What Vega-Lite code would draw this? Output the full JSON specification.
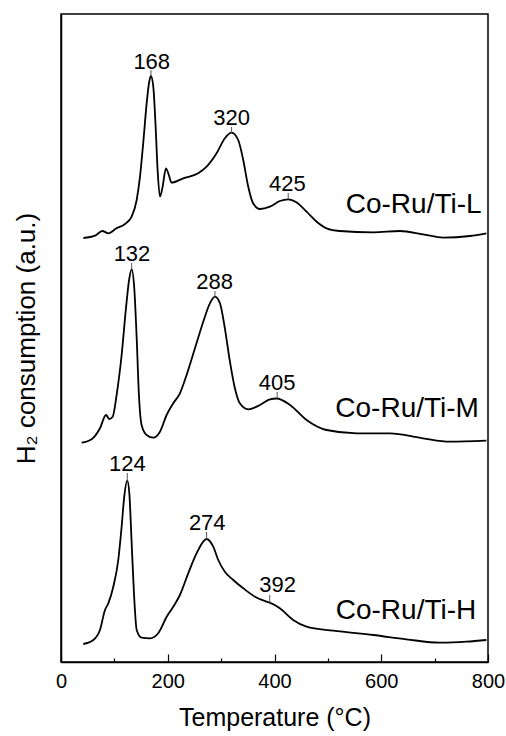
{
  "$schema": "https://vega.github.io/schema/vega-lite/v6.json",
  "width": 427,
  "height": 648,
  "autosize": {"type": "none"},
  "padding": {"left": 61, "top": 14, "right": 18, "bottom": 74},
  "background": "white",
  "config": {
    "view": {"stroke": "black", "strokeWidth": 1.5},
    "font": "Liberation Sans",
    "axis": {"grid": false, "domainColor": "black", "domainWidth": 1.5, "tickColor": "black", "labelColor": "black", "titleColor": "black", "labelFont": "Liberation Sans", "titleFont": "Liberation Sans", "titleFontWeight": "normal"}
  },
  "datasets": {
    "curves": [
      {"s":"L","T":42,"v":424},{"s":"L","T":63.7,"v":426.3},{"s":"L","T":77.4,"v":431},{"s":"L","T":88.6,"v":428.7},{"s":"L","T":104,"v":433.7},{"s":"L","T":120,"v":438},{"s":"L","T":132.4,"v":445.3},{"s":"L","T":141.8,"v":462},{"s":"L","T":148,"v":485.3},{"s":"L","T":154,"v":518.7},{"s":"L","T":160.5,"v":558.7},{"s":"L","T":164.8,"v":578.7},{"s":"L","T":168.5,"v":586},{"s":"L","T":172.9,"v":575.3},{"s":"L","T":177.3,"v":535.3},{"s":"L","T":181,"v":492},{"s":"L","T":185.4,"v":465.3},{"s":"L","T":190.4,"v":475.3},{"s":"L","T":196.6,"v":493.7},{"s":"L","T":202,"v":487},{"s":"L","T":207,"v":479.3},{"s":"L","T":229,"v":483.7},{"s":"L","T":257,"v":488.7},{"s":"L","T":272.8,"v":495.3},{"s":"L","T":291.5,"v":508.7},{"s":"L","T":307,"v":523.7},{"s":"L","T":319.6,"v":529.3},{"s":"L","T":332,"v":522},{"s":"L","T":341.4,"v":502},{"s":"L","T":350.8,"v":475.3},{"s":"L","T":360,"v":458.7},{"s":"L","T":372.7,"v":453},{"s":"L","T":391.4,"v":455.3},{"s":"L","T":410,"v":461},{"s":"L","T":425.7,"v":462.7},{"s":"L","T":441,"v":459.7},{"s":"L","T":460,"v":450.3},{"s":"L","T":479,"v":440.3},{"s":"L","T":497.5,"v":433.7},{"s":"L","T":522,"v":431},{"s":"L","T":585,"v":429.7},{"s":"L","T":635,"v":431},{"s":"L","T":678,"v":427.7},{"s":"L","T":716,"v":424.3},{"s":"L","T":766,"v":426},{"s":"L","T":797,"v":428.7},
      {"s":"M","T":38.7,"v":219.3},{"s":"M","T":57.4,"v":222.7},{"s":"M","T":73,"v":233.7},{"s":"M","T":84.3,"v":247},{"s":"M","T":90.5,"v":243},{"s":"M","T":96.8,"v":245.3},{"s":"M","T":104.2,"v":267},{"s":"M","T":113.6,"v":307},{"s":"M","T":121.7,"v":353.7},{"s":"M","T":128,"v":383.7},{"s":"M","T":132.4,"v":392.7},{"s":"M","T":137.3,"v":373.7},{"s":"M","T":141.8,"v":323.7},{"s":"M","T":146,"v":267},{"s":"M","T":151,"v":237},{"s":"M","T":160.4,"v":227},{"s":"M","T":172.9,"v":224.3},{"s":"M","T":185.4,"v":230.3},{"s":"M","T":197.9,"v":247},{"s":"M","T":210.3,"v":258.7},{"s":"M","T":222.8,"v":268.7},{"s":"M","T":235.3,"v":287},{"s":"M","T":251,"v":313.7},{"s":"M","T":266.5,"v":340.3},{"s":"M","T":279,"v":358.7},{"s":"M","T":288.4,"v":365.3},{"s":"M","T":297.8,"v":358.7},{"s":"M","T":307,"v":333.7},{"s":"M","T":316.5,"v":300.3},{"s":"M","T":325.8,"v":273.7},{"s":"M","T":335,"v":258.7},{"s":"M","T":350.8,"v":252.7},{"s":"M","T":372.7,"v":257},{"s":"M","T":391.4,"v":262.7},{"s":"M","T":404,"v":263.5},{"s":"M","T":429,"v":257},{"s":"M","T":460,"v":242},{"s":"M","T":497.5,"v":232},{"s":"M","T":554,"v":228.7},{"s":"M","T":616,"v":228.7},{"s":"M","T":678,"v":223.7},{"s":"M","T":728,"v":220.3},{"s":"M","T":797,"v":221.3},
      {"s":"H","T":41.8,"v":18},{"s":"H","T":60.5,"v":22},{"s":"H","T":73,"v":32},{"s":"H","T":82.4,"v":52},{"s":"H","T":88.6,"v":58.7},{"s":"H","T":98,"v":75.3},{"s":"H","T":107.3,"v":102},{"s":"H","T":113.6,"v":135.3},{"s":"H","T":118.5,"v":165.3},{"s":"H","T":124.2,"v":181.3},{"s":"H","T":128,"v":168.7},{"s":"H","T":132.4,"v":118.7},{"s":"H","T":136.7,"v":68.7},{"s":"H","T":141.8,"v":32},{"s":"H","T":151,"v":24.3},{"s":"H","T":166.7,"v":23.7},{"s":"H","T":182.2,"v":28.7},{"s":"H","T":198,"v":45.3},{"s":"H","T":210.3,"v":55.3},{"s":"H","T":222.8,"v":67},{"s":"H","T":238.4,"v":88.7},{"s":"H","T":254,"v":108.7},{"s":"H","T":272.8,"v":123},{"s":"H","T":285.2,"v":115.3},{"s":"H","T":294.6,"v":102},{"s":"H","T":307,"v":90.3},{"s":"H","T":322.7,"v":82},{"s":"H","T":341.4,"v":73.7},{"s":"H","T":363.3,"v":65.3},{"s":"H","T":385.2,"v":60.3},{"s":"H","T":391,"v":59.3},{"s":"H","T":410,"v":53.7},{"s":"H","T":435,"v":42},{"s":"H","T":460,"v":35.3},{"s":"H","T":510,"v":31.3},{"s":"H","T":585,"v":27},{"s":"H","T":647,"v":22.7},{"s":"H","T":710,"v":19.3},{"s":"H","T":760,"v":20.3},{"s":"H","T":797,"v":22}
    ],
    "peaks": [
      {"label":"168","T":168.5,"tx":170,"ty":593.5,"v1":586,"v2":592},
      {"label":"320","T":319.6,"tx":319.6,"ty":537,"v1":529.3,"v2":535},
      {"label":"425","T":425.7,"tx":424,"ty":471,"v1":462.7,"v2":469},
      {"label":"132","T":132.4,"tx":133,"ty":401,"v1":392.7,"v2":399},
      {"label":"288","T":288.4,"tx":288,"ty":373,"v1":365.3,"v2":371},
      {"label":"405","T":405,"tx":405,"ty":272,"v1":263.5,"v2":270},
      {"label":"124","T":124.2,"tx":124.5,"ty":191,"v1":181.3,"v2":189},
      {"label":"274","T":272.8,"tx":274,"ty":132,"v1":123,"v2":130},
      {"label":"392","T":391,"tx":406,"ty":70,"v1":59.3,"v2":67}
    ],
    "names": [
      {"name":"Co-Ru/Ti-L","T":788,"v":448.7},
      {"name":"Co-Ru/Ti-M","T":783,"v":245},
      {"name":"Co-Ru/Ti-H","T":778,"v":42.7}
    ]
  },
  "layer": [
    {
      "data": {"name": "curves"},
      "mark": {"type": "line", "color": "black", "strokeWidth": 1.8, "interpolate": "monotone"},
      "encoding": {
        "x": {"field": "T", "type": "quantitative", "scale": {"domain": [0, 800], "nice": false},
          "axis": {"title": "Temperature (°C)", "values": [0,100,200,300,400,500,600,700,800],
            "labelExpr": "datum.value % 200 === 0 ? datum.label : ''",
            "tickSize": {"condition": {"test": "datum.value % 200 === 0", "value": -8}, "value": -4},
            "tickWidth": 1.2, "labelFontSize": 20, "labelPadding": 17, "titleFontSize": 25, "titlePadding": 14, "labelFlush": false}},
        "y": {"field": "v", "type": "quantitative", "scale": {"domain": [0, 648], "nice": false},
          "axis": {"title": "H₂ consumption (a.u.)", "ticks": false, "labels": false, "titleFontSize": 26, "titlePadding": 22}},
        "detail": {"field": "s"}
      }
    },
    {
      "data": {"name": "peaks"},
      "mark": {"type": "rule", "color": "#555", "strokeWidth": 1},
      "encoding": {
        "x": {"field": "T", "type": "quantitative"},
        "y": {"field": "v1", "type": "quantitative"},
        "y2": {"field": "v2"}
      }
    },
    {
      "data": {"name": "peaks"},
      "mark": {"type": "text", "fontSize": 22, "color": "black", "align": "center", "baseline": "alphabetic"},
      "encoding": {
        "x": {"field": "tx", "type": "quantitative"},
        "y": {"field": "ty", "type": "quantitative"},
        "text": {"field": "label"}
      }
    },
    {
      "data": {"name": "names"},
      "mark": {"type": "text", "fontSize": 28, "color": "black", "align": "right", "baseline": "alphabetic"},
      "encoding": {
        "x": {"field": "T", "type": "quantitative"},
        "y": {"field": "v", "type": "quantitative"},
        "text": {"field": "name"}
      }
    }
  ]
}
